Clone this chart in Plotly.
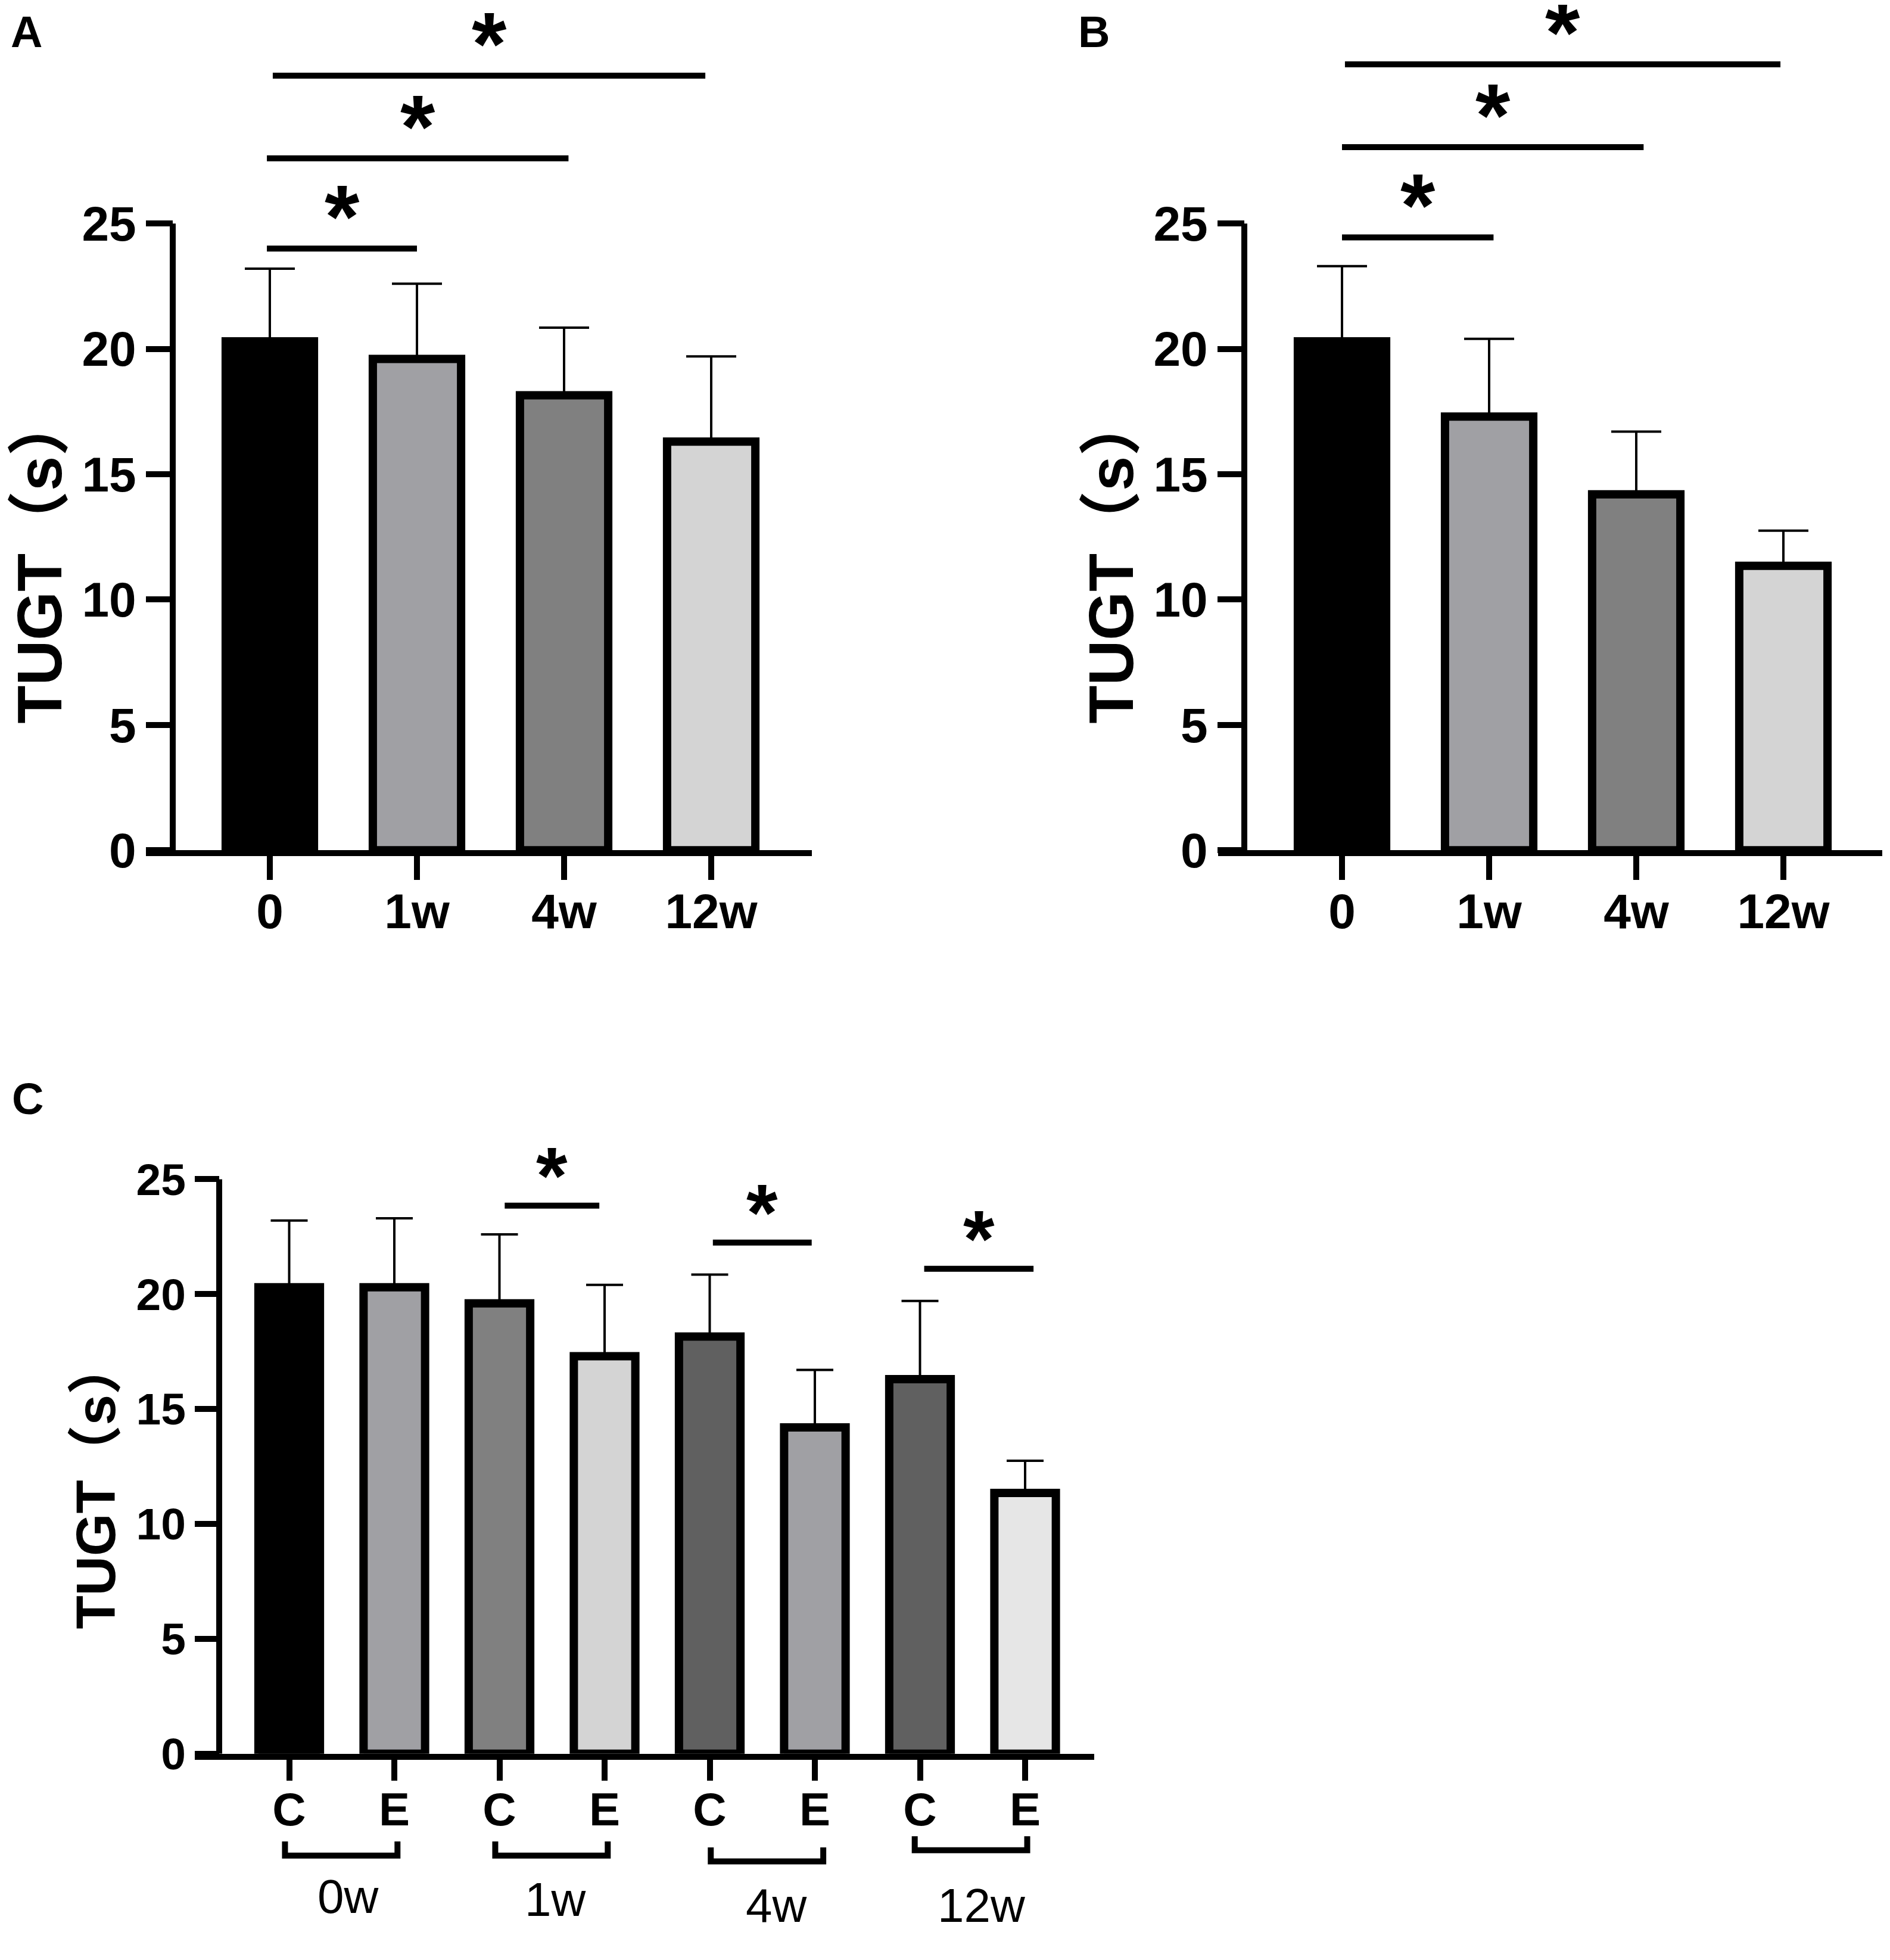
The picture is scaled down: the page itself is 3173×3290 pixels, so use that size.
import plotly.graph_objects as go

# page is 3173 x 3290; the exported html has an 8px body margin,
# so the figure is made 16px smaller and every pixel position is shifted by it
PAGE_W, PAGE_H = 3173, 3290
OFF = 8
W, H = PAGE_W - 2 * OFF, PAGE_H - 2 * OFF

# ---- data ----
weeks = ['0', '1w', '4w', '12w']
ctrl_mean = [20.3, 19.6, 18.15, 16.3]
ctrl_sd = [2.9, 3.0, 2.7, 3.4]
exp_mean = [20.3, 17.3, 14.2, 11.35]
exp_sd = [3.0, 3.1, 2.5, 1.4]
arms = ['C', 'E']
group_names = ['0w', '1w', '4w', '12w']

fills_ab = ['#000000', '#a0a0a4', '#808080', '#d4d4d4']
fills_c = ['#000000', '#a0a0a4', '#808080', '#d4d4d4',
           '#606060', '#a0a0a4', '#606060', '#e6e6e6']

# significance bars: (from, to, height)
sig_a = [(-0.02, 1.0, 24.0), (-0.02, 2.03, 27.6), (0.02, 2.96, 30.9)]
sig_b = [(0.0, 1.03, 24.45), (0.0, 2.05, 28.05), (0.02, 2.98, 31.35)]
sig_c = [(2.05, 2.95, 23.85), (4.03, 4.97, 22.24), (6.04, 7.08, 21.1)]

# interleave control / experimental for panel C
c_mean = [v for pair in zip(ctrl_mean, exp_mean) for v in pair]
c_sd = [v for pair in zip(ctrl_sd, exp_sd) for v in pair]
c_ticks = arms * len(group_names)

BOLD = 'Liberation Sans, Arial, sans-serif'
TITLE = 'Liberation Sans, Noto Sans CJK SC, sans-serif'


def px_x(v):
    return (v - OFF) / W


def px_y(v):
    return 1 - (v - OFF) / H


# pixel layout of the three panels (page pixels)
panels = [
    dict(s='', means=ctrl_mean, sds=ctrl_sd, fills=fills_ab, ticks=weeks, sig=sig_a,
         left=245, right=1363, yline=290, c0=453, step=247, zero=1447.5, ppu=42.68,
         top=33.5, barw=0.6, cap=42, xfs=82, yfs=82, ticklen=40, yticklen=45,
         star=150, title_x=67, title_y=951, title_fs=105),
    dict(s='2', means=exp_mean, sds=exp_sd, fills=fills_ab, ticks=weeks, sig=sig_b,
         left=2045, right=3160, yline=2089, c0=2253, step=247, zero=1447.5, ppu=42.68,
         top=33.5, barw=0.6, cap=42, xfs=82, yfs=82, ticklen=40, yticklen=45,
         star=150, title_x=1866, title_y=951, title_fs=105),
    dict(s='3', means=c_mean, sds=c_sd, fills=fills_c, ticks=c_ticks, sig=sig_c,
         left=327, right=1837, yline=368, c0=485.5, step=176.5, zero=2985.5, ppu=39.12,
         top=27, barw=0.585, cap=31, xfs=78, yfs=75, ticklen=35, yticklen=41,
         star=135, title_x=161, title_y=2527, title_fs=92),
]

fig = go.Figure()
shapes = []
annotations = []
layout = {}

for p in panels:
    s = p['s']
    n = len(p['means'])
    xs = list(range(n))
    fig.add_trace(go.Bar(
        x=xs, y=p['means'], width=p['barw'],
        marker=dict(color=p['fills'], line=dict(color='black', width=14)),
        error_y=dict(type='data', array=p['sds'], arrayminus=[0] * n, symmetric=False,
                     color='black', thickness=4, width=p['cap']),
        xaxis='x' + s, yaxis='y' + s, showlegend=False,
    ))
    top_px = p['zero'] - p['top'] * p['ppu']
    layout['xaxis' + s] = dict(
        domain=[px_x(p['left']), px_x(p['right'])],
        range=[(p['left'] - p['c0']) / p['step'], (p['right'] - p['c0']) / p['step']],
        anchor='y' + s, tickvals=xs, ticktext=p['ticks'],
        ticks='outside', ticklen=p['ticklen'], tickwidth=10, tickcolor='black',
        ticklabelstandoff=-18,
        showline=True, linewidth=10, linecolor='black',
        showgrid=False, zeroline=False,
        tickfont=dict(family=BOLD, size=p['xfs'], color='black', weight='bold'),
    )
    layout['yaxis' + s] = dict(
        domain=[px_y(p['zero']), px_y(top_px)],
        range=[0, p['top']], anchor='free', position=px_x(p['yline']),
        tickvals=[0, 5, 10, 15, 20, 25],
        ticks='outside', ticklen=p['yticklen'], tickwidth=10, tickcolor='black',
        showline=False, showgrid=False, zeroline=False,
        tickfont=dict(family=BOLD, size=p['yfs'], color='black', weight='bold'),
    )
    # y axis line only up to 25
    shapes.append(dict(type='line', xref='paper', yref='y' + s,
                       x0=px_x(p['yline']), x1=px_x(p['yline']), y0=0, y1=25,
                       line=dict(color='black', width=10)))
    # significance lines and stars
    for a, b, h in p['sig']:
        shapes.append(dict(type='line', xref='x' + s, yref='y' + s,
                           x0=a, x1=b, y0=h, y1=h,
                           line=dict(color='black', width=10)))
        annotations.append(dict(
            x=(a + b) / 2, y=h + 1.58, xref='x' + s, yref='y' + s,
            text='*', showarrow=False, yanchor='middle',
            yshift=-0.21 * p['star'] + 18,
            font=dict(family=BOLD, size=p['star'], color='black', weight='bold'),
        ))
    annotations.append(dict(
        x=px_x(p['title_x']), y=px_y(p['title_y']), xref='paper', yref='paper',
        text='TUGT（s）', textangle=-90, showarrow=False,
        xanchor='center', yanchor='middle',
        font=dict(family=TITLE, size=p['title_fs'], color='black', weight='bold'),
    ))

# group brackets under panel C (hand-drawn look: small per-group offsets)
bracket_dx = [-0.04, -0.04, 0.01, -0.05]
bracket_y = [3159, 3159, 3169, 3150]
label_dx = [0.06, 0.03, 0.13, 0.085]
label_y = [3229, 3234, 3244, 3244]
for g, name in enumerate(group_names):
    x0 = 2 * g + bracket_dx[g]
    x1 = x0 + 1.07
    yb = px_y(bracket_y[g])
    yu = px_y(bracket_y[g] - 24)
    shapes.append(dict(type='path', xref='x3', yref='paper',
                       path=f'M {x0},{yu} L {x0},{yb} L {x1},{yb} L {x1},{yu}',
                       line=dict(color='black', width=10)))
    annotations.append(dict(
        x=2 * g + 0.5 + label_dx[g], y=px_y(label_y[g]), xref='x3', yref='paper',
        text=name, showarrow=False, xanchor='center', yanchor='middle',
        font=dict(family='Liberation Sans, Arial, sans-serif', size=80, color='black'),
    ))

# panel letters
for letter, lx, ly in [('A', 16, 10), ('B', 1808, 10), ('C', 18, 1827)]:
    annotations.append(dict(
        x=px_x(lx), y=px_y(ly), xref='paper', yref='paper', text=letter,
        showarrow=False, xanchor='left', yanchor='top',
        font=dict(family=BOLD, size=74, color='black', weight='bold'),
    ))

fig.update_layout(
    width=W, height=H, margin=dict(l=0, r=0, t=0, b=0),
    paper_bgcolor='white', plot_bgcolor='white',
    showlegend=False, shapes=shapes, annotations=annotations,
    **layout,
)

fig.write_html("out.html")
